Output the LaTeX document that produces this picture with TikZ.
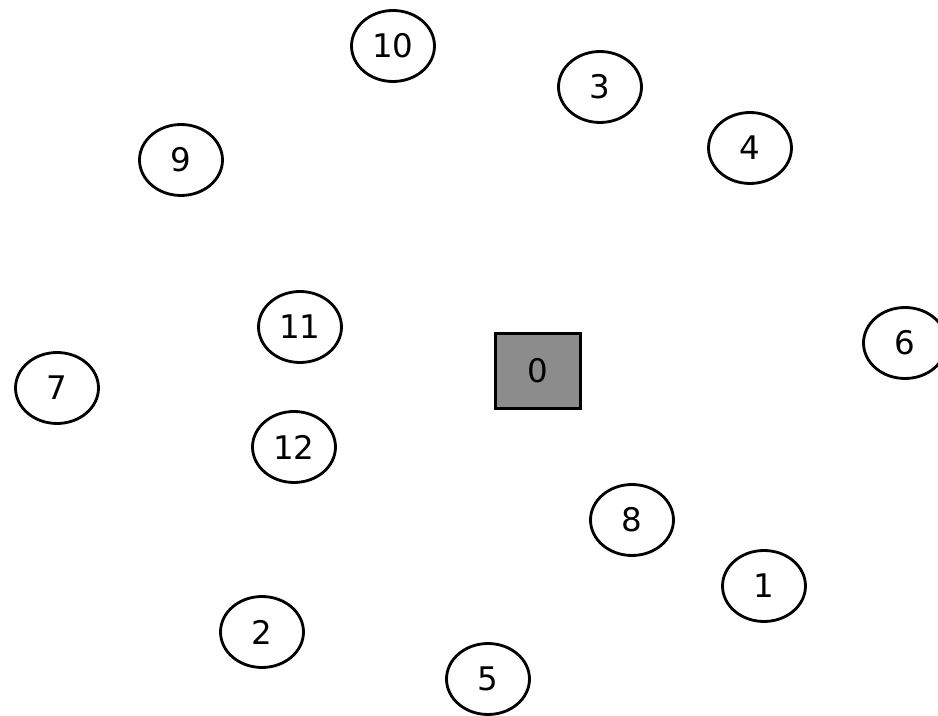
\documentclass[tikz,border=0pt]{standalone}
\usepackage{fontspec}
\setmainfont{DejaVu Sans}
\usetikzlibrary{shapes.geometric}
\tikzset{
  peer/.style={ellipse, draw, line width=1.6pt, minimum width=1.66cm, minimum height=1.42cm, inner sep=0pt, font=\fontsize{18.5}{20}\selectfont},
  hub/.style={rectangle, draw, line width=2pt, fill=black!45, minimum width=1.7cm, minimum height=1.5cm, inner sep=0pt, font=\fontsize{18.5}{20}\selectfont}
}

\begin{document}
\begin{tikzpicture}[x=0.02cm, y=-0.02cm]
  \useasboundingbox (0,0) rectangle (938,716);
  \clip (0,0) rectangle (938,716);
  \fill[white] (0,0) rectangle (938,716);
  \node[hub] (n0) at (538,371) {0};
  \foreach \id/\x/\y in {10/393/46, 3/600/87, 4/750/148, 9/181/160, 11/300/327,
      6/905/343, 7/57/388, 12/294/447, 8/632/520, 1/764/586, 2/262/632, 5/488/679}
    {\node[peer] (n\id) at (\x,\y) {\id};}
\end{tikzpicture}
\end{document}
